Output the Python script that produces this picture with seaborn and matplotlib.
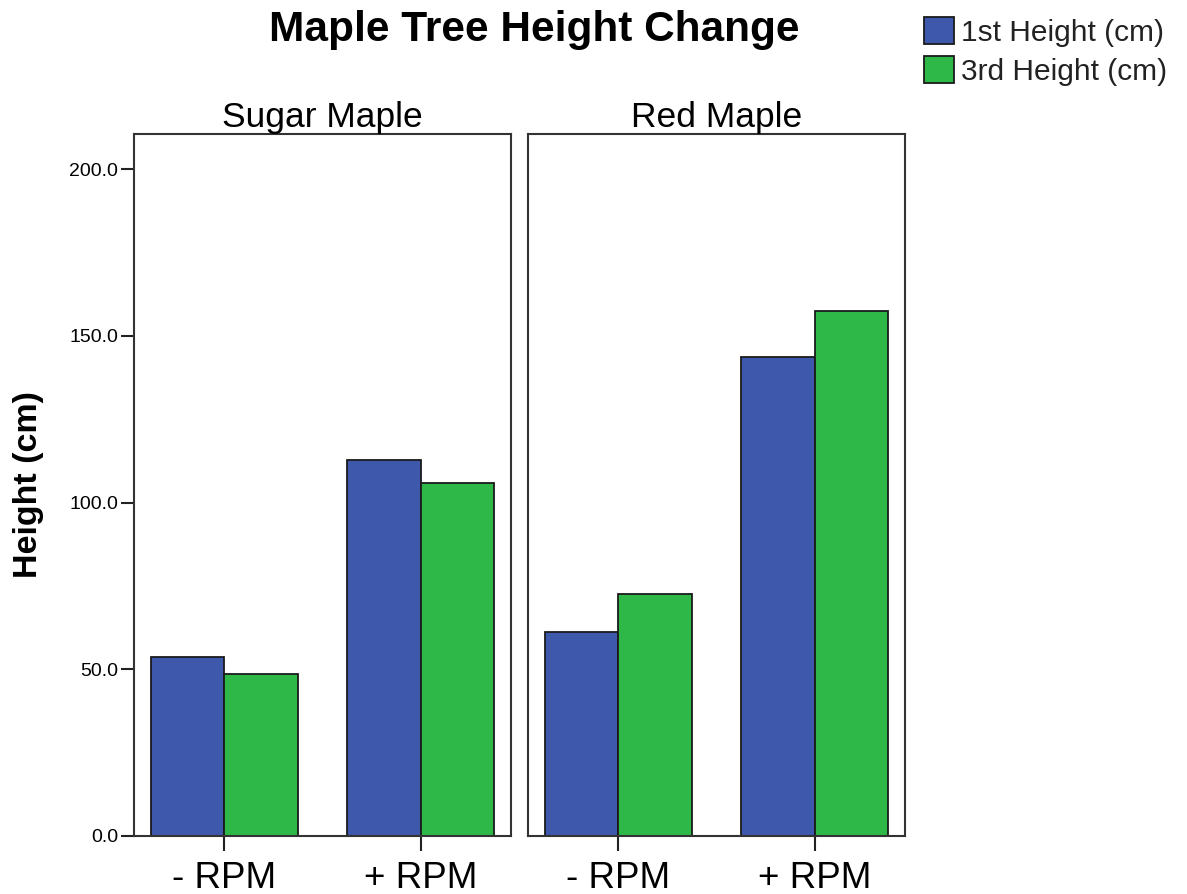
import matplotlib
matplotlib.use("Agg")
import matplotlib.pyplot as plt
import seaborn as sns
import pandas as pd
from matplotlib.patches import Patch

# ---- data ----
species = ["Sugar Maple", "Red Maple"]
treatments = ["- RPM", "+ RPM"]
measures = ["1st Height (cm)", "3rd Height (cm)"]
sugar_first = [53.7, 112.7]
sugar_third = [48.6, 105.8]
red_first = [61.2, 143.6]
red_third = [72.6, 157.4]
yticks = [0.0, 50.0, 100.0, 150.0, 200.0]
colors = ["#3E58AC", "#2EB848"]

rows = []
for sp, first, third in [(species[0], sugar_first, sugar_third),
                         (species[1], red_first, red_third)]:
    for t, f, th in zip(treatments, first, third):
        rows.append({"Species": sp, "Treatment": t, "Measure": measures[0], "Height": f})
        rows.append({"Species": sp, "Treatment": t, "Measure": measures[1], "Height": th})
df = pd.DataFrame(rows)

sns.set_theme(style="white")
plt.rcParams["font.family"] = ["Liberation Sans", "DejaVu Sans"]
plt.rcParams["text.color"] = "black"
plt.rcParams["axes.labelcolor"] = "black"
plt.rcParams["xtick.color"] = "black"
plt.rcParams["ytick.color"] = "black"

W, H = 1187, 894
fig = plt.figure(figsize=(W / 100, H / 100), dpi=100)

def fx(px):
    return px / W

def fy(py):
    return 1 - py / H

ax_top, ax_bot = 134, 836
lefts = [134, 528]
width_px = 377
for i, sp in enumerate(species):
    ax = fig.add_axes([fx(lefts[i]), fy(ax_bot), width_px / W, (ax_bot - ax_top) / H])
    sub = df[df["Species"] == sp]
    sns.barplot(data=sub, x="Treatment", y="Height", hue="Measure",
                order=treatments, hue_order=measures, palette=colors,
                width=0.75, edgecolor="#1a1a1a", linewidth=1.3,
                saturation=1, errorbar=None, legend=False, ax=ax)
    ax.set_xlim(-0.46, 1.46)
    ax.set_ylim(0, 210.5)
    ax.set_xlabel("")
    ax.set_ylabel("")
    ax.set_title(sp, fontsize=25.5, pad=5)
    for s in ax.spines.values():
        s.set_visible(True)
        s.set_color("#333333")
        s.set_linewidth(1.5)
    ax.tick_params(axis="x", which="both", bottom=True, direction="out",
                   length=11, width=1.5, color="#222222", labelsize=26.5, pad=7)
    if i == 0:
        ax.set_yticks(yticks)
        ax.set_yticklabels([f"{v:.1f}" for v in yticks])
        ax.tick_params(axis="y", left=True, direction="out", length=9.5,
                       width=1.5, color="#222222", labelsize=14, pad=2)
        ax.set_ylabel("Height (cm)", fontsize=24.5, fontweight="bold", labelpad=18)
    else:
        ax.set_yticks([])

fig.text(fx(534), fy(41), "Maple Tree Height Change", ha="center", va="baseline",
         fontsize=30.5, fontweight="bold")

handles = [Patch(facecolor=c, edgecolor="#1a1a1a", linewidth=1.3) for c in colors]
fig.legend(handles, measures, loc="upper left", bbox_to_anchor=(fx(912), fy(5)),
           frameon=False, fontsize=21.5, handlelength=1.0, handleheight=1.0,
           handletextpad=0.25, labelspacing=0.32, borderaxespad=0,
           labelcolor="#222222")

fig.savefig("out.png", dpi=100)
